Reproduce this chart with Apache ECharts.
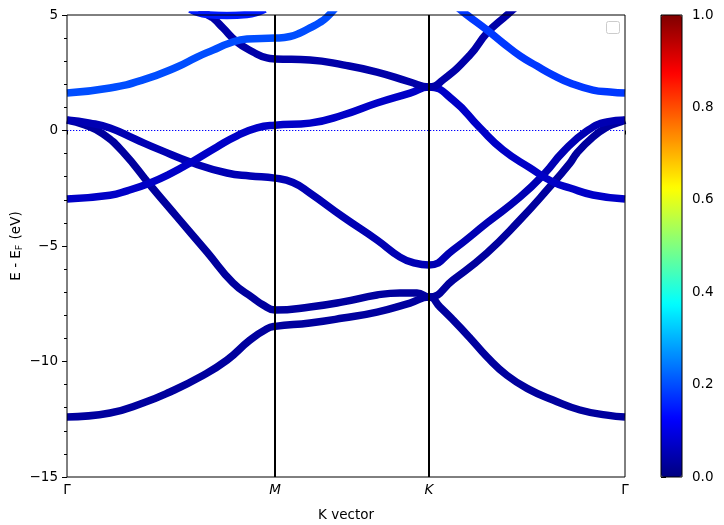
<!DOCTYPE html>
<html><head><meta charset="utf-8">
<script src="https://cdn.jsdelivr.net/npm/echarts@6/dist/echarts.min.js"></script>
<style>html,body{margin:0;padding:0;background:#fff}#c{width:724px;height:525px}</style>
</head><body><div id="c"></div>
<script>
// k-path positions of high-symmetry points and their labels
const kTicks = [0, 2.08, 3.62, 5.58];
const kLabels = ['Γ', 'M', 'K', 'Γ'];
const eRange = [-15, 5];
const eFermi = 0;
const cbTicks = [0, 0.2, 0.4, 0.6, 0.8, 1.0];

// bands: [k, E - EF]
const band1 = [[0,-12.40],[0.43,-12.23],[0.76,-11.80],[1.03,-11.32],[1.33,-10.67],[1.60,-9.94],[1.83,-9.07],[2.00,-8.58],[2.08,-8.48],
  [2.43,-8.33],[2.76,-8.12],[3.10,-7.86],[3.43,-7.47],[3.62,-7.21],
  [3.73,-7.64],[3.86,-8.20],[4.03,-8.98],[4.20,-9.80],[4.40,-10.60],[4.63,-11.23],[4.86,-11.67],[5.13,-12.10],[5.40,-12.32],[5.58,-12.40]];
const band2 = [[0,0.45],[0.18,0.24],[0.36,-0.15],[0.56,-0.93],[0.83,-2.36],[1.10,-3.74],[1.40,-5.26],[1.66,-6.60],[1.86,-7.25],[1.96,-7.55],[2.08,-7.77],
  [2.43,-7.64],[2.76,-7.42],[3.10,-7.12],[3.33,-7.03],[3.50,-7.03],[3.62,-7.21],
  [3.86,-6.47],[4.20,-5.30],[4.53,-3.87],[4.80,-2.58],[5.03,-1.41],[5.10,-0.97],[5.26,-0.28],[5.40,0.15],[5.50,0.32],[5.58,0.45]];
const band3 = [[0,0.45],[0.23,0.32],[0.43,0.11],[0.68,-0.37],[0.93,-0.84],[1.26,-1.41],[1.60,-1.84],[1.83,-1.97],[2.08,-2.06],
  [2.26,-2.25],[2.43,-2.71],[2.76,-3.74],[3.10,-4.74],[3.33,-5.48],[3.48,-5.74],[3.62,-5.82],
  [3.86,-5.17],[4.20,-4.00],[4.53,-2.88],[4.78,-1.84],[4.96,-0.93],[5.20,-0.02],[5.40,0.37],[5.58,0.45]];
const band4 = [[0,-2.97],[0.43,-2.80],[0.60,-2.61],[0.83,-2.27],[1.03,-1.88],[1.26,-1.33],[1.50,-0.71],[1.70,-0.23],[1.90,0.11],[2.08,0.23],
  [2.43,0.32],[2.76,0.67],[3.10,1.19],[3.43,1.62],[3.62,1.88],
  [3.86,1.32],[4.13,0.11],[4.36,-0.84],[4.63,-1.62],[4.86,-2.23],[5.03,-2.49],[5.26,-2.79],[5.58,-2.97]];
const band5 = [[1.31,5.39],[1.41,5.00],[1.46,4.87],[1.56,4.44],[1.70,3.83],[1.86,3.40],[2.00,3.14],[2.08,3.10],
  [2.43,3.05],[2.76,2.84],[3.10,2.53],[3.43,2.10],[3.62,1.88],
  [3.76,2.19],[4.03,3.27],[4.20,4.22],[4.40,5.00],[4.50,5.39]];
const band6 = [[0,1.62],[0.43,1.84],[0.76,2.19],[1.10,2.75],[1.30,3.18],[1.46,3.48],[1.63,3.79],[1.80,3.96],[2.08,4.00],
  [2.23,4.07],[2.33,4.22],[2.43,4.44],[2.53,4.68],[2.60,4.91],[2.70,5.39]];
const band7 = [[3.90,5.35],[4.00,5.00],[4.20,4.35],[4.36,3.79],[4.53,3.23],[4.70,2.79],[4.86,2.40],[5.03,2.06],[5.26,1.75],[5.43,1.67],[5.58,1.62]];
const band8 = [[1.23,5.25],[1.40,5.02],[1.60,4.98],[1.80,5.02],[1.98,5.25]];
const bands = [band1, band2, band3, band4, band5, band6, band7, band8];
// projected weight (colour) of each band
const bandWeights = [0.03, 0.03, 0.05, 0.07, 0.04, 0.20, 0.18, 0.15];

function clamp(x){ return Math.max(0, Math.min(1, x)); }
function jet(v){
  const r = clamp(1.5 - Math.abs(4*v - 3));
  const g = clamp(1.5 - Math.abs(4*v - 2));
  const b = clamp(1.5 - Math.abs(4*v - 1));
  return 'rgb(' + Math.round(r*255) + ',' + Math.round(g*255) + ',' + Math.round(b*255) + ')';
}
const jetColors = [];
for (let i = 0; i <= 64; i++) jetColors.push(jet(i/64));

const font = 'DejaVu Sans';
const series = [];
// Fermi level (under bands)
series.push({type:'line', xAxisIndex:0, yAxisIndex:0, z:1, silent:true, symbol:'none',
  data:[[kTicks[0], eFermi],[kTicks[kTicks.length-1], eFermi]],
  lineStyle:{color:'#0000ff', width:1.2, type:[1.3,1.7]}});
bands.forEach((b, i) => {
  series.push({type:'line', xAxisIndex:0, yAxisIndex:0, z:2, silent:true, symbol:'none', showSymbol:false,
    smooth:0.5, data:b, clip:true,
    lineStyle:{color:jet(bandWeights[i]), width:7.5, cap:'butt', join:'round'}});
});
// vertical lines at interior high-symmetry points
kTicks.slice(1, -1).forEach(k => {
  series.push({type:'line', xAxisIndex:0, yAxisIndex:0, z:5, silent:true, symbol:'none',
    data:[[k, eRange[0]],[k, eRange[1]]], lineStyle:{color:'#000', width:2}});
});
// dummy series for colour bar
series.push({type:'scatter', xAxisIndex:1, yAxisIndex:1, data:[], silent:true});
const dummyIdx = series.length - 1;

const chart = echarts.init(document.getElementById('c'), null, {renderer:'canvas'});
chart.setOption({
  animation:false,
  backgroundColor:'#fff',
  textStyle:{fontFamily:font, color:'#000'},
  grid:[
    {left:67, top:15, width:558, height:462, show:true, borderColor:'#000', borderWidth:1, backgroundColor:'transparent', z:10, containLabel:false, outerBoundsMode:'none'},
    {left:661, top:15, width:21, height:462, show:true, borderColor:'#000', borderWidth:1, backgroundColor:'transparent', z:10, containLabel:false, outerBoundsMode:'none'}
  ],
  xAxis:[
    {type:'value', gridIndex:0, min:kTicks[0], max:kTicks[kTicks.length-1],
     name:'K vector', nameLocation:'middle', nameGap:31, nameMoveOverlap:false, nameTextStyle:{fontFamily:font, fontSize:13.5, color:'#000'},
     axisLine:{show:false}, splitLine:{show:false},
     axisTick:{show:true, customValues:kTicks, length:4, lineStyle:{color:'#000'}},
     axisLabel:{show:true, customValues:kTicks, margin:6, fontFamily:font, fontSize:13.5, color:'#000',
       formatter:(v)=>{ const i = kTicks.indexOf(v); const t = i>=0 ? kLabels[i] : ''; return (t==='M'||t==='K') ? '{it|'+t+'}' : t; },
       rich:{it:{fontStyle:'italic', fontFamily:font, fontSize:13.5, color:'#000'}}}},
    {type:'value', gridIndex:1, min:0, max:1, show:false}
  ],
  yAxis:[
    {type:'value', gridIndex:0, min:eRange[0], max:eRange[1], interval:5,
     name:'{n|E - E}{s|F}{n| (eV)}', nameLocation:'middle', nameGap:42, nameRotate:90, nameMoveOverlap:false,
     nameTextStyle:{rich:{n:{fontFamily:font, fontSize:13.5, color:'#000'}, s:{fontFamily:font, fontSize:9.5, color:'#000', padding:[7,1,0,0]}}},
     axisLine:{show:false}, splitLine:{show:false},
     axisTick:{show:true, length:5, lineStyle:{color:'#000'}},
     minorTick:{show:true, splitNumber:5, length:3, lineStyle:{color:'#000'}},
     axisLabel:{margin:9, fontFamily:font, fontSize:13.5, color:'#000', formatter:(v)=>String(v).replace('-', '\u2212')}},
    {type:'value', gridIndex:1, min:0, max:1, interval:0.2, position:'right',
     axisLine:{show:false}, splitLine:{show:false},
     axisTick:{show:true, length:5, lineStyle:{color:'#000'}},
     axisLabel:{margin:10, fontFamily:font, fontSize:13.5, color:'#000', formatter:(v)=>v.toFixed(1)}}
  ],
  visualMap:[{type:'continuous', min:cbTicks[0], max:cbTicks[cbTicks.length-1], orient:'vertical', left:661, top:15,
    itemWidth:21, itemHeight:462, padding:0, calculable:false, hoverLink:false, text:null, showLabel:false,
    seriesIndex:dummyIdx, inRange:{color:jetColors}, z:4}],
  graphic:[{type:'rect', left:606, top:21, shape:{width:13, height:12, r:2}, style:{fill:'#fff', stroke:'#cccccc', lineWidth:1}, z:20}],
  series:series
});
</script></body></html>
